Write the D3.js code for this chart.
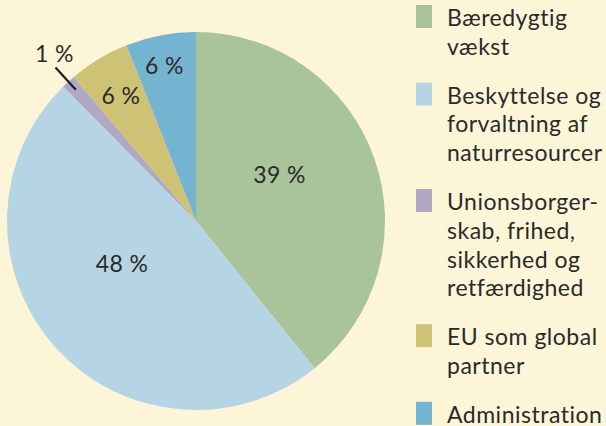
<!DOCTYPE html>
<html>
<head>
<meta charset="utf-8">
<script src="https://cdn.jsdelivr.net/npm/d3@7"></script>
<style>
  html, body { margin: 0; padding: 0; background: #fdf5d7; }
  svg { display: block; font-family: Lato, "Open Sans", sans-serif; }
</style>
</head>
<body>
<div id="chart"></div>
<script>
// slice shares as drawn (the printed labels are rounded)
const categories = ["Bæredygtig vækst", "Beskyttelse og forvaltning af naturresourcer",
  "Unionsborgerskab, frihed, sikkerhed og retfærdighed", "EU som global partner", "Administration"]
const shares = [39.2, 48.4, 1.2, 5.2, 6.0]
const pct_labels = ["39 %", "48 %", "1 %", "6 %", "6 %"]
const legend_lines = [
  ["Bæredygtig", "vækst"],
  ["Beskyttelse og", "forvaltning af", "naturresourcer"],
  ["Unionsborger-", "skab, frihed,", "sikkerhed og", "retfærdighed"],
  ["EU som global", "partner"],
  ["Administration"]
]
const colors = ["#a9c49a", "#b5d5e5", "#b1a9c3", "#cec274", "#75b4d1"]

const width = 606, height = 426
const cx = 196, cy = 221, radius = 189
const text_color = "#2a2a2a"

const svg = d3.select("#chart").append("svg")
  .attr("width", width)
  .attr("height", height)

svg.append("rect").attr("width", width).attr("height", height).attr("fill", "#fdf5d7")

const color = d3.scaleOrdinal().domain(categories).range(colors)

const pie = d3.pie().sort(null).value((d, i) => shares[i])
const arcs = pie(categories)

const arc = d3.arc().innerRadius(0).outerRadius(radius)

const g = svg.append("g").attr("transform", `translate(${cx},${cy})`)

g.selectAll("path.slice")
  .data(arcs)
  .enter()
  .append("path")
    .attr("class", "slice")
    .attr("d", arc)
    .attr("fill", d => color(d.data))

// label placement: radius of the label arc, plus a small nudge
const label_layout = [
  { r: 95, dx: -6, dy: -14 },
  { r: 95, dx: -3, dy: -20 },
  null,
  { r: 146, dx: 0, dy: 0 },
  { r: 158, dx: -2, dy: 0 }
]

arcs.forEach((a, i) => {
  const lay = label_layout[i]
  if (!lay) return
  const c = d3.arc().innerRadius(lay.r).outerRadius(lay.r).centroid(a)
  g.append("text")
    .attr("x", c[0] + lay.dx)
    .attr("y", c[1] + lay.dy + 8)
    .attr("text-anchor", "middle")
    .attr("font-size", 23)
    .attr("letter-spacing", 0.4)
    .attr("fill", text_color)
    .text(pct_labels[i])
})

// the 1 % slice gets a leader line
const small = arcs[2]
const p_in = d3.arc().innerRadius(178).outerRadius(178).centroid(small)
const p_out = d3.arc().innerRadius(208).outerRadius(208).centroid(small)
g.append("line")
  .attr("x1", p_in[0]).attr("y1", p_in[1])
  .attr("x2", p_out[0]).attr("y2", p_out[1])
  .attr("stroke", "#1e1e1e")
  .attr("stroke-width", 2.2)
g.append("text")
  .attr("x", p_out[0] - 1)
  .attr("y", p_out[1] - 6)
  .attr("text-anchor", "middle")
  .attr("font-size", 23)
  .attr("letter-spacing", 0.4)
  .attr("fill", text_color)
  .text(pct_labels[2])

// legend
const legend = svg.append("g").attr("class", "legend")
const line_h = 28.8, item_gap = 20
let base = 26
legend_lines.forEach((lines, i) => {
  legend.append("rect")
    .attr("x", 416)
    .attr("y", base - 21)
    .attr("width", 16)
    .attr("height", 23)
    .attr("fill", colors[i])
  const t = legend.append("text")
    .attr("font-size", 23)
    .attr("letter-spacing", 0.5)
    .attr("fill", text_color)
  lines.forEach((ln, j) => {
    t.append("tspan")
      .attr("x", 447)
      .attr("y", base + j * line_h)
      .text(ln)
  })
  base += lines.length * line_h + item_gap
})
</script>
</body>
</html>
